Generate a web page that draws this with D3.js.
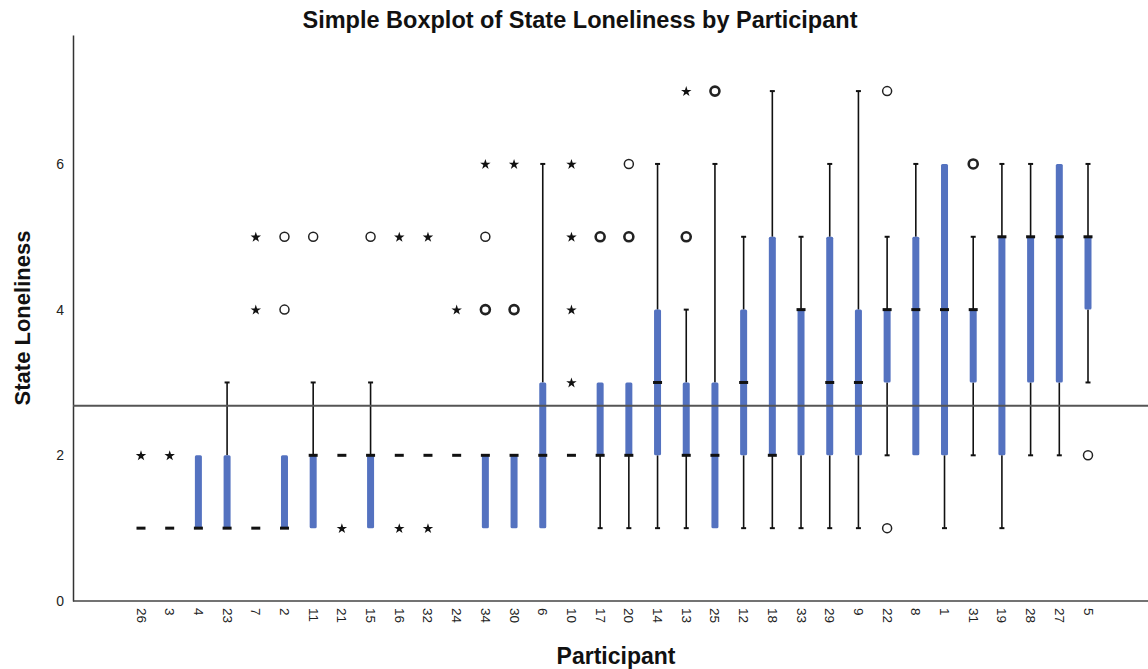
<!DOCTYPE html>
<html>
<head>
<meta charset="utf-8">
<script src="https://cdn.jsdelivr.net/npm/d3@7"></script>
<style>
  html, body { margin: 0; padding: 0; background: #fff; }
  svg { display: block; }
  text { font-family: "Liberation Sans", Arial, sans-serif; }
</style>
</head>
<body>
<svg id="chart" width="1148" height="669"></svg>
<script>
// ---- Data ----
const participants = ["26","3","4","23","7","2","11","21","15","16","32","24","34","30","6","10","17","20","14","13","25","12","18","33","29","9","22","8","1","31","19","28","27","5"];
const whiskerLow  = [1,1,1,1,1,1,1,2,1,2,2,2,1,1,1,2,1,1,1,1,1,1,1,1,1,1,2,2,1,2,1,2,2,3];
const quartile1   = [1,1,1,1,1,1,1,2,1,2,2,2,1,1,1,2,2,2,2,2,1,2,2,2,2,2,3,2,2,3,2,3,3,4];
const medians     = [1,1,1,1,1,1,2,2,2,2,2,2,2,2,2,2,2,2,3,2,2,3,2,4,3,3,4,4,4,4,5,5,5,5];
const quartile3   = [1,1,2,2,1,2,2,2,2,2,2,2,2,2,3,2,3,3,4,3,3,4,5,4,5,4,4,5,6,4,5,5,6,5];
const whiskerHigh = [1,1,2,3,1,2,3,2,3,2,2,2,2,2,6,2,3,3,6,4,6,5,7,5,6,7,5,6,6,5,6,6,6,6];
// outliers (circles); repeated values = overlapping cases
const outliers = [[],[],[],[],[],[4,5],[5],[],[5],[],[],[],[4,4,5],[4,4],[],[],[5,5],[5,5,6],[],[5,5],[7,7],[],[],[],[],[],[1,7],[],[],[6,6],[],[],[],[2]];
// extreme values (stars)
const extremes = [[2],[2],[],[],[4,5],[],[],[1],[],[1,5],[1,5],[4],[6],[6],[],[3,4,5,6],[],[],[],[7],[],[],[],[],[],[],[],[],[],[],[],[],[],[]];
const yTicks = [0, 2, 4, 6];
const referenceValue = 2.68;

const titleText = "Simple Boxplot of State Loneliness by Participant";
const xTitle = "Participant";
const yTitle = "State Loneliness";

// ---- Layout ----
const svg = d3.select("#chart");
const W = 1148, H = 669;
const axisX = 73, axisBottom = 601, axisTop = 35;

const y = d3.scaleLinear().domain([0, 7.77]).range([axisBottom, axisTop]);
const x = d3.scalePoint().domain(participants).range([141, 1088]);

const boxColor = "#5472c0";

// Title
svg.append("text")
  .attr("x", 580).attr("y", 28)
  .attr("text-anchor", "middle")
  .attr("font-size", 23.5).attr("font-weight", "bold")
  .attr("fill", "#111")
  .text(titleText);

// Y axis
const yAxis = d3.axisLeft(y).tickValues(yTicks).tickSize(0).tickPadding(9).tickFormat(d3.format("d"));
const gy = svg.append("g").attr("transform", `translate(${axisX},0)`).call(yAxis);
gy.select(".domain").attr("stroke", "#333").attr("stroke-width", 1.5);
gy.selectAll("text").attr("font-size", 14).attr("fill", "#222")
  .style("font-family", "'Liberation Sans', Arial, sans-serif");

// X axis
const xAxis = d3.axisBottom(x).tickSize(0).tickPadding(0);
const gx = svg.append("g").attr("transform", `translate(0,${axisBottom})`).call(xAxis);
gx.select(".domain").attr("d", `M${axisX},0H${W}`).attr("stroke", "#444").attr("stroke-width", 1.5);
gx.selectAll("text")
  .attr("font-size", 13.5).attr("fill", "#222")
  .style("font-family", "'Liberation Sans', Arial, sans-serif")
  .attr("text-anchor", "start")
  .attr("dy", null)
  .attr("y", 0)
  .attr("transform", "translate(-5,7) rotate(90)");

// Axis titles
svg.append("text")
  .attr("x", 616).attr("y", 664)
  .attr("text-anchor", "middle")
  .attr("font-size", 23).attr("font-weight", "bold").attr("fill", "#111")
  .text(xTitle);
svg.append("text")
  .attr("transform", `translate(30,318) rotate(-90)`)
  .attr("text-anchor", "middle")
  .attr("font-size", 22).attr("font-weight", "bold").attr("fill", "#111")
  .text(yTitle);

// Boxes
const data = participants.map((p, i) => ({
  p, lo: whiskerLow[i], q1: quartile1[i], med: medians[i], q3: quartile3[i], hi: whiskerHigh[i],
  out: outliers[i], ext: extremes[i]
}));

const g = svg.append("g");
const boxW = 7, capW = 5, medW = 9;

data.forEach(d => {
  const cx = x(d.p);
  // whiskers
  if (d.hi > d.q3) {
    g.append("line").attr("x1", cx).attr("x2", cx).attr("y1", y(d.q3)).attr("y2", y(d.hi))
      .attr("stroke", "#111").attr("stroke-width", 1.6);
    g.append("line").attr("x1", cx - capW / 2).attr("x2", cx + capW / 2).attr("y1", y(d.hi)).attr("y2", y(d.hi))
      .attr("stroke", "#111").attr("stroke-width", 2);
  }
  if (d.lo < d.q1) {
    g.append("line").attr("x1", cx).attr("x2", cx).attr("y1", y(d.q1)).attr("y2", y(d.lo))
      .attr("stroke", "#111").attr("stroke-width", 1.6);
    g.append("line").attr("x1", cx - capW / 2).attr("x2", cx + capW / 2).attr("y1", y(d.lo)).attr("y2", y(d.lo))
      .attr("stroke", "#111").attr("stroke-width", 2);
  }
  // box
  if (d.q3 > d.q1) {
    g.append("rect").attr("x", cx - boxW / 2).attr("width", boxW)
      .attr("y", y(d.q3)).attr("height", y(d.q1) - y(d.q3))
      .attr("rx", 1.5).attr("fill", boxColor);
  }
  // median
  g.append("line").attr("x1", cx - medW / 2).attr("x2", cx + medW / 2)
    .attr("y1", y(d.med)).attr("y2", y(d.med))
    .attr("stroke", "#111").attr("stroke-width", 3);

  // outliers (circles)
  const counts = d3.rollup(d.out, v => v.length, v => v);
  counts.forEach((n, v) => {
    g.append("circle").attr("cx", cx).attr("cy", y(v)).attr("r", 4.5)
      .attr("fill", "none").attr("stroke", "#222")
      .attr("stroke-width", n > 1 ? 2.6 : 1.5);
  });
  // extremes (stars)
  d.ext.forEach(v => {
    g.append("path").attr("d", d3.symbol(d3.symbolStar, 34)())
      .attr("transform", `translate(${cx},${y(v) + 0.5})`)
      .attr("fill", "#111");
  });
});

// Reference line
svg.append("line")
  .attr("x1", axisX).attr("x2", W)
  .attr("y1", y(referenceValue)).attr("y2", y(referenceValue))
  .attr("stroke", "#555").attr("stroke-width", 2);
</script>
</body>
</html>
